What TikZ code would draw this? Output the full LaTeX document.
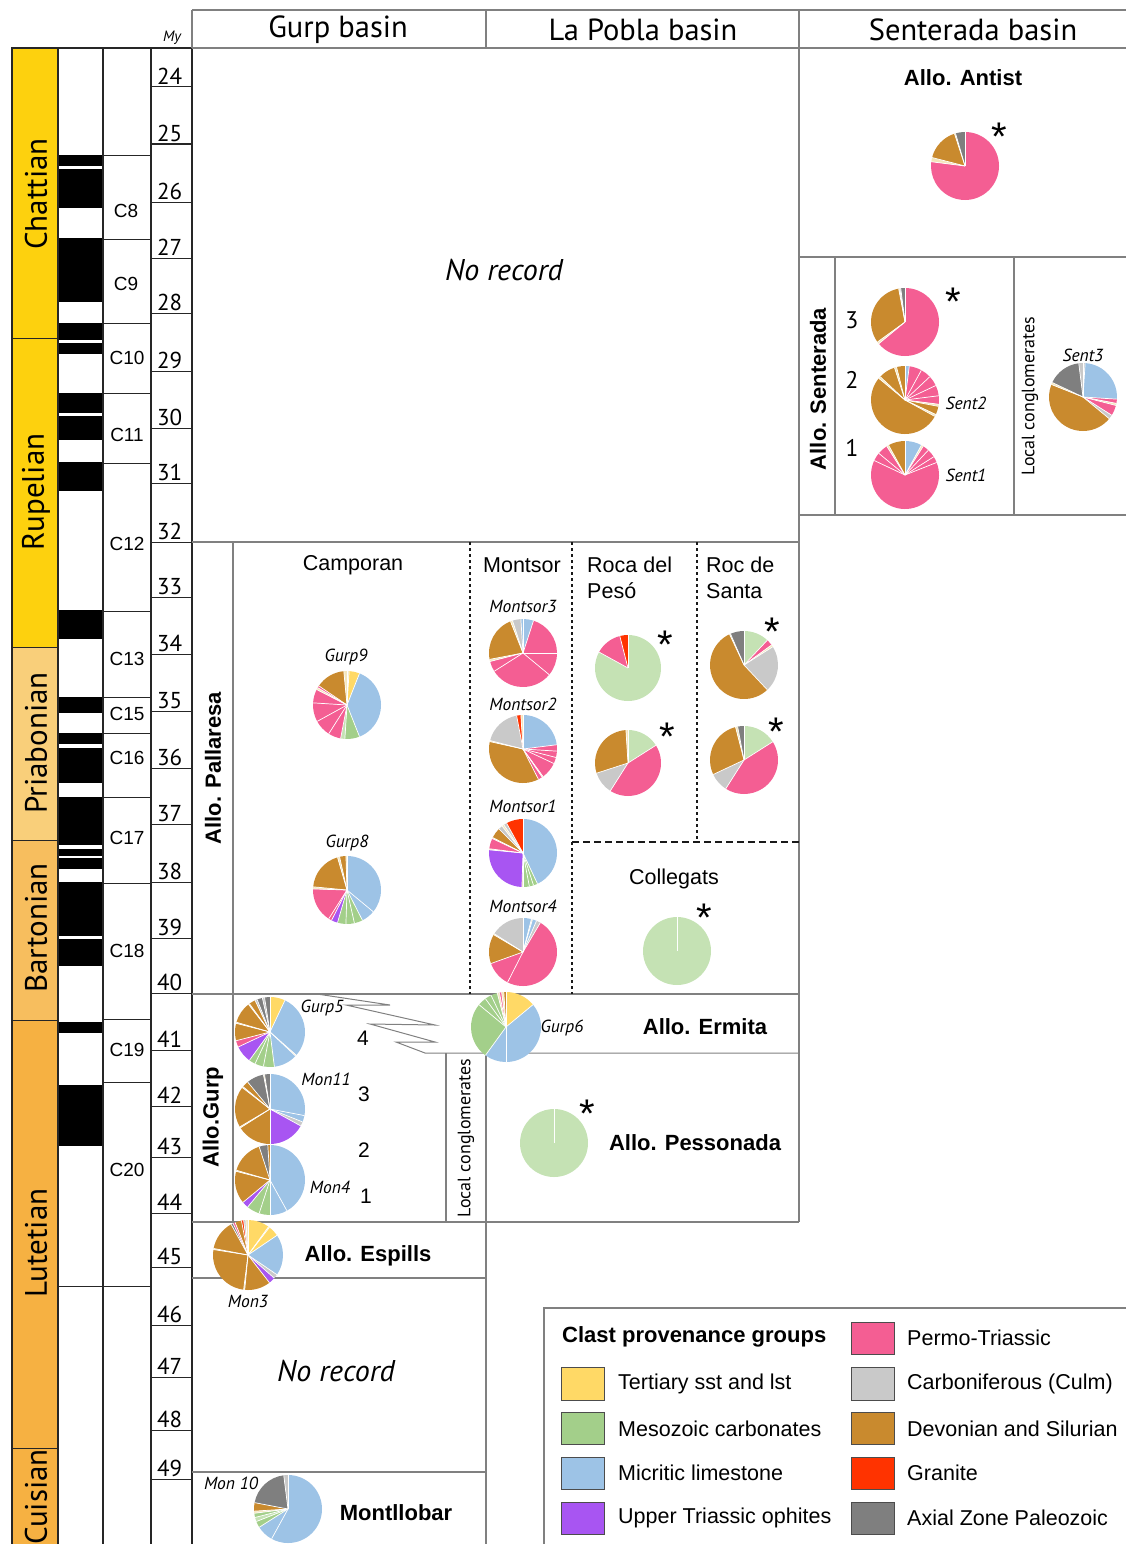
\documentclass[tikz,border=0pt]{standalone}
\usepackage{fontspec}
\setmainfont{Liberation Sans}
\newfontfamily\myr{PT Sans}
\definecolor{cTer}{HTML}{FFD966}
\definecolor{cMes}{HTML}{A3CF8A}
\definecolor{cMesL}{HTML}{C5E2B4}
\definecolor{cMic}{HTML}{9DC3E6}
\definecolor{cOph}{HTML}{A855F2}
\definecolor{cPer}{HTML}{F45E93}
\definecolor{cCar}{HTML}{C9C9C9}
\definecolor{cDev}{HTML}{C98A2E}
\definecolor{cGra}{HTML}{FF3300}
\definecolor{cAxi}{HTML}{7F7F7F}
\definecolor{cBei}{HTML}{F4E6BC}
\definecolor{stA}{HTML}{FDD10E}
\definecolor{stP}{HTML}{F9CF7A}
\definecolor{stB}{HTML}{F7BE5E}
\definecolor{stL}{HTML}{F6B142}
\newcommand{\piechart}[3]{%
  \xdef\pieang{90}%
  \foreach \pp/\cc in {#3} {%
    \pgfmathsetmacro\pieangb{\pieang-3.6*\pp}%
    \fill[\cc] (#1) -- ++(\pieang:#2) arc[start angle=\pieang, end angle=\pieangb, radius=#2] -- cycle;
    \xdef\pieang{\pieangb}%
  }%
  \xdef\pieang{90}%
  \foreach \pp/\cc in {#3} {%
    \draw[white, line width=0.7pt] (#1) -- ++(\pieang:#2);
    \pgfmathsetmacro\pieangb{\pieang-3.6*\pp}%
    \xdef\pieang{\pieangb}%
  }%
}
\begin{document}
\begin{tikzpicture}[x=1pt,y=-1pt,
  gl/.style={draw=black!50, line width=1.3pt},
  bl/.style={draw=black!85, line width=1.4pt},
  dotl/.style={draw=black!90, line width=2.4pt, dash pattern=on 3pt off 3pt},
  dashl/.style={draw=black!90, line width=2.4pt, dash pattern=on 7pt off 4pt},
  sw/.style={draw=black!70, line width=1pt},
  lab/.style={font=\fontsize{21.5}{26}\selectfont, inner sep=0pt},
  blab/.style={font=\fontsize{22}{26}\selectfont\bfseries, inner sep=0pt},
  hdr/.style={font=\myr\fontsize{30.5}{32}\selectfont, inner sep=0pt},
  stg/.style={font=\myr\fontsize{31}{32}\selectfont, inner sep=0pt, rotate=90},
  agel/.style={font=\myr\fontsize{23}{24}\selectfont, inner sep=0pt},
  chl/.style={font=\fontsize{19}{20}\selectfont, inner sep=0pt},
  pl/.style={font=\myr\itshape\fontsize{17.5}{18}\selectfont, inner sep=0pt},
  nr/.style={font=\myr\itshape\fontsize{30}{32}\selectfont, inner sep=0pt},
  num/.style={font=\fontsize{21}{22}\selectfont, inner sep=0pt},
  snum/.style={font=\myr\fontsize{24}{24}\selectfont, inner sep=0pt},
  loc/.style={font=\myr\fontsize{18}{18}\selectfont, inner sep=0pt, rotate=90},
  ast/.style={font=\fontsize{40}{40}\selectfont, inner sep=0pt, anchor=north}
]
\useasboundingbox (0,0) rectangle (1126,1544);
% ---------------- left time chart ----------------
\fill[stA] (12,48) rectangle (58,647);
\fill[stP] (12,647) rectangle (58,840);
\fill[stB] (12,840) rectangle (58,1020);
\fill[stL] (12,1020) rectangle (58,1544);
\foreach \ya/\yb in {155/208,238/302,323/354,393/440,462/491,610/639,697/713,733/783,797/869,882/966,1022/1033,1085/1146}
  \fill[black] (58,\ya) rectangle (103,\yb);
\foreach \ya/\yb in {166/169,340/343,413/416,744/748,845/849,856/858,936/939}
  \fill[white] (59,\ya) rectangle (102,\yb);
\draw[bl] (12,1544) -- (12,48) -- (192,48);
\draw[bl] (58,48) -- (58,1544);
\draw[bl] (103,48) -- (103,1544);
\draw[bl, line width=2.6pt] (151,48) -- (151,1544);
\draw[bl] (192,48) -- (192,1544);
\foreach \y in {338,647,840,1020,1448}
  \draw[bl, line width=0.9pt] (12,\y) -- (58,\y);
\foreach \y in {155,239,323,393,463,611,697,733,797,883,1019,1082}
  \draw[bl, line width=1pt] (103,\y) -- (150,\y);
\draw[bl, line width=1pt] (58,1286) -- (150,1286);
\foreach \y in {87,144,202,258,313,371,428,483,542,597,654,711,768,824,882,938,993,1050,1106,1157,1213,1267,1325,1377,1430,1479}
  \draw[bl, line width=1pt] (152,\y) -- (192,\y);
\node[stg] (sChat) at (36,194) {Chattian};
\node[stg] (sRup) at (36,492) {Rupelian};
\node[stg] (sPri) at (36,743) {Priabonian};
\node[stg] (sBar) at (36,928) {Bartonian};
\node[stg] (sLut) at (36,1243) {Lutetian};
\node[stg] (sCui) at (36,1497) {Cuisian};
\node[chl] (c8) at (126,211) {C8};
\node[chl] (c9) at (126,284) {C9};
\node[chl] (c10) at (127,358) {C10};
\node[chl] (c11) at (127,435) {C11};
\node[chl] (c12) at (127,544) {C12};
\node[chl] (c13) at (127,659) {C13};
\node[chl] (c15) at (127,714) {C15};
\node[chl] (c16) at (127,758) {C16};
\node[chl] (c17) at (127,838) {C17};
\node[chl] (c18) at (127,951) {C18};
\node[chl] (c19) at (127,1050) {C19};
\node[chl] (c20) at (127,1170) {C20};
\node[font=\myr\itshape\fontsize{15}{16}\selectfont, inner sep=0pt] (my) at (172,38) {My};
\foreach \m/\y in {24/87,25/144,26/202,27/258,28/313,29/371,30/428,31/483,32/542,33/597,34/654,35/711,36/768,37/824,38/882,39/938,40/993,41/1050,42/1106,43/1157,44/1213,45/1267,46/1325,47/1377,48/1430,49/1479}
  \node[agel, anchor=south west] (age\m) at (157,\y-2) {\m};
% ---------------- main grid ----------------
\draw[gl] (192,10) -- (1126,10);
\draw[gl] (192,48) -- (1126,48);
\draw[gl] (192,10) -- (192,48);
\draw[gl] (486,10) -- (486,48);
\draw[gl] (799,10) -- (799,1222);
\draw[gl] (192,542) -- (799,542);
\draw[gl] (233,542) -- (233,1222);
\draw[gl] (192,994) -- (799,994);
\draw[gl] (192,1222) -- (799,1222);
\draw[gl] (446,1053) -- (446,1222);
\draw[gl] (486,1053) -- (486,1544);
\draw[gl] (192,1278) -- (486,1278);
\draw[gl] (192,1472) -- (486,1472);
\draw[gl] (799,257) -- (1126,257);
\draw[gl] (799,515) -- (1126,515);
\draw[gl] (835,257) -- (835,515);
\draw[gl] (1014,257) -- (1014,515);
\draw[gl, line width=1pt] (317,994) -- (390,1005) -- (346,1005) -- (435,1025) -- (370,1024) -- (435,1042) -- (396,1042) -- (425,1053) -- (799,1053);
\draw[dotl] (470,542) -- (470,994);
\draw[dotl] (572,542) -- (572,994);
\draw[dotl] (697,542) -- (697,842);
\draw[dashl] (572,842) -- (799,842);
% headers
\node[hdr] (hG) at (338,30) {Gurp basin};
\node[hdr] (hL) at (643,30) {La Pobla basin};
\node[hdr] (hS) at (973,30) {Senterada basin};
% texts
\node[blab] (antist) at (963,78) {Allo. Antist};
\node[nr] (nr1) at (504,270) {No record};
\node[nr] (nr2) at (336,1371) {No record};
\node[blab, rotate=90] (aSen) at (818,389) {Allo. Senterada};
\node[loc] (lc1) at (1030,396) {Local conglomerates};
\node[snum] (n3) at (852,320) {3};
\node[snum] (n2) at (852,380) {2};
\node[snum] (n1) at (852,448) {1};
\node[blab, rotate=90] (aPal) at (213,768) {Allo. Pallaresa};
\node[lab] (camp) at (353,565) {Camporan};
\node[lab] (mont) at (522,565) {Montsor};
\node[lab, anchor=west, align=left] (roca) at (587,578) {Roca del\\Pesó};
\node[lab, anchor=west, align=left] (roc) at (706,578) {Roc de\\Santa};
\node[lab] (coll) at (674,879) {Collegats};
\node[blab] (erm) at (705,1027) {Allo. Ermita};
\node[blab] (pes) at (695,1143) {Allo. Pessonada};
\node[blab, rotate=90] (aGurp) at (213,1117) {Allo.Gurp};
\node[loc] (lc2) at (466,1138) {Local conglomerates};
\node[num] (g4) at (363,1038) {4};
\node[num] (g3) at (364,1094) {3};
\node[num] (g2) at (364,1150) {2};
\node[num] (g1) at (366,1196) {1};
\node[blab] (esp) at (368,1256) {Allo. Espills};
\node[blab] (mlb) at (396,1513) {Montllobar};
% pie labels
\node[pl] (lG9) at (346,657) {Gurp9};
\node[pl] (lG8) at (347,843) {Gurp8};
\node[pl] (lM3) at (523,606) {Montsor3};
\node[pl] (lM2) at (523,704) {Montsor2};
\node[pl] (lM1) at (523,806) {Montsor1};
\node[pl] (lM4) at (523,906) {Montsor4};
\node[pl] (lS2) at (966,403) {Sent2};
\node[pl] (lS1) at (966,475) {Sent1};
\node[pl] (lS3) at (1083,355) {Sent3};
\node[pl] (lG5) at (322,1008) {Gurp5};
\node[pl] (lG6) at (562,1028) {Gurp6};
\node[pl] (lMn11) at (326,1079) {Mon11};
\node[pl] (lMn4) at (330,1187) {Mon4};
\node[pl] (lMn3) at (248,1301) {Mon3};
\node[pl] (lMn10) at (231,1483) {Mon 10};
% pies
\piechart{965,166}{34pt}{77/cPer,2/cBei,16/cDev,0.5/cBei,4.5/cAxi}
\piechart{905,322}{34pt}{64/cPer,1/cBei,32/cDev,0.5/cBei,0.5/cCar,2/cAxi}
\piechart{905,400}{34pt}{2/cMic,6/cPer,5/cPer,5/cPer,5/cPer,4/cPer,1/cBei,4/cDev,1/cBei,53/cDev,1/cBei,8/cDev,1/cBei,4/cDev}
\piechart{905,475}{34pt}{8/cMic,1/cBei,3/cPer,4/cPer,3/cPer,63/cPer,4/cPer,5/cPer,1/cBei,8/cDev}
\piechart{1083,397}{34pt}{1/cCar,25/cMic,2/cPer,1/cBei,5/cPer,2/cCar,45/cDev,1/cBei,16/cAxi,2/cCar}
\piechart{347,705}{34pt}{1/cBei,5/cTer,38/cMic,7/cMes,2/cMesL,6/cPer,8/cPer,9/cPer,6.5/cPer,1/cBei,1/cPer,14/cDev,1.5/cBei}
\piechart{347,890}{34pt}{36/cMic,6.5/cMic,4/cMes,4/cMes,4/cMes,3/cOph,1.5/cPer,16.5/cPer,1/cBei,19/cDev,1/cBei,3/cDev,0.5/cBei}
\piechart{523,653}{34pt}{5/cMic,20/cPer,11/cPer,30/cPer,5/cPer,1/cBei,22/cDev,1/cBei,4/cCar,1/cMic}
\piechart{523,749}{34pt}{23/cMic,3/cPer,3/cPer,3/cPer,8/cPer,0.5/cBei,2/cPer,36/cDev,0.5/cBei,18/cCar,2/cGra,1/cBei}
\piechart{523,853}{34pt}{43/cMic,2/cMes,2/cMes,3/cMes,0.5/cBei,26/cOph,0.5/cBei,5/cPer,0.5/cBei,5/cDev,2/cCar,1/cBei,1.5/cCar,8/cGra}
\piechart{523,952}{34pt}{4/cMic,0.5/cBei,2/cMic,2/cCar,49/cPer,12/cPer,14/cDev,0.5/cBei,16/cCar}
\piechart{628,668}{33pt}{83/cMesL,13/cPer,4/cGra}
\piechart{628,763}{33pt}{16/cMesL,43/cPer,11/cCar,29/cDev,1/cBei}
\piechart{744,665}{34pt}{12/cMesL,3/cPer,1/cBei,22/cCar,55/cDev,0.5/cBei,6.5/cAxi}
\piechart{744,760}{34pt}{16/cMesL,43/cPer,9/cCar,28/cDev,1/cBei,3/cAxi}
\piechart{677,951}{34pt}{100/cMesL}
\piechart{554,1143}{34pt}{100/cMesL}
\piechart{270,1032}{35pt}{7/cTer,29.5/cMic,0.5/cBei,11/cMic,5/cMes,4/cMes,3/cMes,8/cOph,3/cPer,8/cDev,0.5/cBei,10/cDev,0.5/cBei,3/cDev,1/cCar,2.5/cAxi,1/cCar,2.5/cAxi}
\piechart{506,1027}{35pt}{14/cTer,36/cMic,10/cMic,26/cMes,4/cMes,3/cMes,3/cMes,1/cBei,1/cPer,1/cBei,1/cDev}
\piechart{270,1109}{35pt}{28/cMic,3/cMic,2/cCar,17/cOph,16/cDev,0.5/cBei,19/cDev,0.5/cBei,3/cDev,8/cAxi,0.5/cBei,2.5/cAxi}
\piechart{270,1180}{35pt}{42/cMic,8/cMic,5/cMes,6/cMes,3/cOph,15/cDev,0.5/cBei,15.5/cDev,4/cAxi,1/cDev}
\piechart{248,1255}{35pt}{10/cTer,0.5/cBei,5/cTer,19/cMic,2/cCar,3/cOph,12/cDev,0.5/cBei,25.5/cDev,0.5/cBei,14/cDev,1/cAxi,1/cPer,3/cDev,1/cGra,1/cCar,1/cBei}
\piechart{288,1509}{34pt}{58/cMic,8/cMic,3/cMes,2/cMesL,2/cMes,1/cBei,4/cDev,20/cAxi,2/cCar}
% asterisks
\node[ast] (a1) at (999,123) {*};
\node[ast] (a2) at (953,288) {*};
\node[ast] (a3) at (665,631) {*};
\node[ast] (a4) at (667,723) {*};
\node[ast] (a5) at (772,618) {*};
\node[ast] (a6) at (776,718) {*};
\node[ast] (a7) at (704,904) {*};
\node[ast] (a8) at (587,1100) {*};
% ---------------- legend ----------------
\draw[gl] (1126,1308) -- (544,1308) -- (544,1544);
\node[blab, anchor=west] (lgT) at (562,1337) {Clast provenance groups};
\draw[sw, fill=cPer] (851,1322) rectangle (894,1354);
\draw[sw, fill=cTer] (561,1367) rectangle (604,1400);
\draw[sw, fill=cCar] (851,1367) rectangle (894,1400);
\draw[sw, fill=cMes] (561,1412) rectangle (604,1444);
\draw[sw, fill=cDev] (851,1412) rectangle (894,1444);
\draw[sw, fill=cMic] (561,1457) rectangle (604,1489);
\draw[sw, fill=cGra] (851,1457) rectangle (894,1489);
\draw[sw, fill=cOph] (561,1502) rectangle (604,1534);
\draw[sw, fill=cAxi] (851,1502) rectangle (894,1534);
\node[lab, anchor=west] (lg1) at (907,1338) {Permo-Triassic};
\node[lab, anchor=west] (lg2) at (618,1384) {Tertiary sst and lst};
\node[lab, anchor=west] (lg3) at (907,1384) {Carboniferous (Culm)};
\node[lab, anchor=west] (lg4) at (618,1429) {Mesozoic carbonates};
\node[lab, anchor=west] (lg5) at (907,1429) {Devonian and Silurian};
\node[lab, anchor=west] (lg6) at (618,1473) {Micritic limestone};
\node[lab, anchor=west] (lg7) at (907,1473) {Granite};
\node[lab, anchor=west] (lg8) at (618,1518) {Upper Triassic ophites};
\node[lab, anchor=west] (lg9) at (907,1518) {Axial Zone Paleozoic};
\end{tikzpicture}
\end{document}
